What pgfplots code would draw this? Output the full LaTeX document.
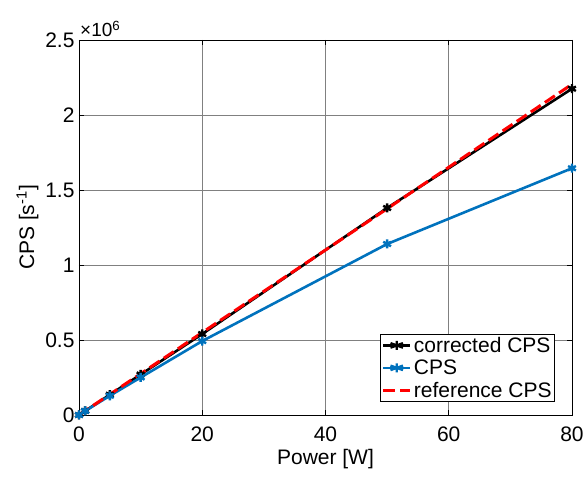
\documentclass[border=0pt]{standalone}
\usepackage{pgfplots}
\pgfplotsset{compat=1.18}
\usepackage{fontspec}
\setmainfont{Liberation Sans}
\definecolor{mblue}{RGB}{0,114,189}
\begin{document}
\begin{tikzpicture}
\begin{axis}[
  scale only axis, width=493pt, height=375pt,
  xmin=0, xmax=80, ymin=0, ymax=2.5e6,
  xtick={0,20,40,60,80},
  ytick={0,0.5e6,1e6,1.5e6,2e6,2.5e6},
  yticklabels={0,0.5,1,1.5,2,2.5},
  scaled y ticks=false,
  /pgf/number format/assume math mode=true,
  tick align=inside, tick style={black,line width=0.6pt}, major tick length=5pt,
  grid=major, grid style={black!50,line width=0.6pt},
  axis line style={black,line width=0.7pt},
  tick label style={font=\fontsize{21}{24}\selectfont},
  xticklabel style={yshift=-8pt},
  yticklabel style={xshift=-1pt},
  label style={font=\fontsize{21}{24}\selectfont},
  xlabel={Power [W]}, ylabel={CPS [s\textsuperscript{-1}]},
  xlabel style={yshift=-1pt}, ylabel style={yshift=0pt},
  legend style={at={(rel axis cs:0.9655,0.0347)},anchor=south east,draw=black,fill=white,
    font=\fontsize{21}{24}\selectfont,inner sep=1pt,row sep=2pt,line width=0.7pt},
  legend cell align=left,
  legend image post style={xscale=1.6},
]
\addplot[black,line width=2.6pt,mark=asterisk,mark size=4.5pt,mark options={line width=2.4pt}] coordinates {
(0,0) (1,0.027e6) (5,0.135e6) (10,0.27e6) (20,0.54e6) (50,1.38e6) (80,2.175e6)};
\addlegendentry{corrected CPS}
\addplot[mblue,line width=2.6pt,mark=asterisk,mark size=4.5pt,mark options={line width=2.4pt}] coordinates {
(0,0) (1,0.027e6) (5,0.128e6) (10,0.25e6) (20,0.493e6) (50,1.14e6) (80,1.645e6)};
\addlegendentry{CPS}
\addplot[red,line width=3pt,dash pattern=on 12pt off 5pt] coordinates {
(0,0) (1,0.0275e6) (5,0.1375e6) (10,0.275e6) (20,0.55e6) (50,1.375e6) (80,2.205e6)};
\addlegendentry{reference CPS}
\end{axis}
\node[anchor=south west,inner sep=0pt,font=\fontsize{19}{22}\selectfont] at ([xshift=1pt,yshift=3pt]current axis.north west) {×10\textsuperscript{6}};
\pgfresetboundingbox
\path[use as bounding box] ([xshift=-79pt,yshift=-63pt]current axis.south west) rectangle ([xshift=11pt,yshift=40pt]current axis.north east);
\end{tikzpicture}
\end{document}
